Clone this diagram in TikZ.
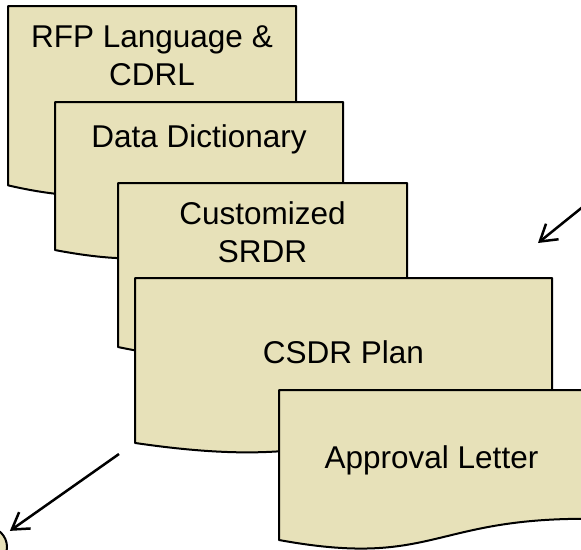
\documentclass[tikz,border=0pt]{standalone}
\usepackage{fontspec}
\setmainfont{Liberation Sans}
\usepackage{xcolor}
\usetikzlibrary{arrows.meta}

\definecolor{paper}{RGB}{231,225,185}
\tikzset{
  docpage/.style={draw=black, line width=2pt, fill=paper, line join=round},
  doctext/.style={align=center, inner sep=0pt, font=\fontsize{31.5}{38}\selectfont},
  pointer/.style={line width=2.5pt, -{Straight Barb[length=16pt,width=20pt,line width=2.5pt]}}
}
\newcommand{\docsheet}[7]{%
  \begin{scope}[shift={(#2,#3)}, x=#4pt, y=-#5pt]
    \draw[docpage] (0,0) -- (1,0) -- (1,0.802) .. controls (0.5,0.802) and (0.5,1.1075) .. (0,0.934) -- cycle;
  \end{scope}
  \node[doctext] (#1) at (#2+#4/2,#6) {#7};
}

\begin{document}
\begin{tikzpicture}[x=1pt, y=-1pt]

\path[use as bounding box] (0,0) rectangle (581,549);
\clip (0,0) rectangle (581,549);

\docsheet{rfp}{8}{6}{288}{192}{56}{RFP Language \&\\CDRL}
\docsheet{dict}{55}{102}{288}{158.5}{139}{Data Dictionary}
\docsheet{srdr}{118}{183}{289}{175.6}{232.5}{Customized\\SRDR}
\docsheet{plan}{135}{278}{417}{176.6}{352}{CSDR Plan}
\docsheet{letter}{279}{390}{305}{160.6}{460}{Approval Letter}

\node[docpage, circle, minimum size=40pt, inner sep=0pt] (goal) at (-13,547) {};

\coordinate (planfoot) at (119,454);
\coordinate (inflow) at (600,193);
\coordinate (inflowtip) at (538,243);
\draw[pointer, shorten >=7pt] (planfoot) -- (goal);
\draw[pointer] (inflow) -- (inflowtip);

\end{tikzpicture}
\end{document}
